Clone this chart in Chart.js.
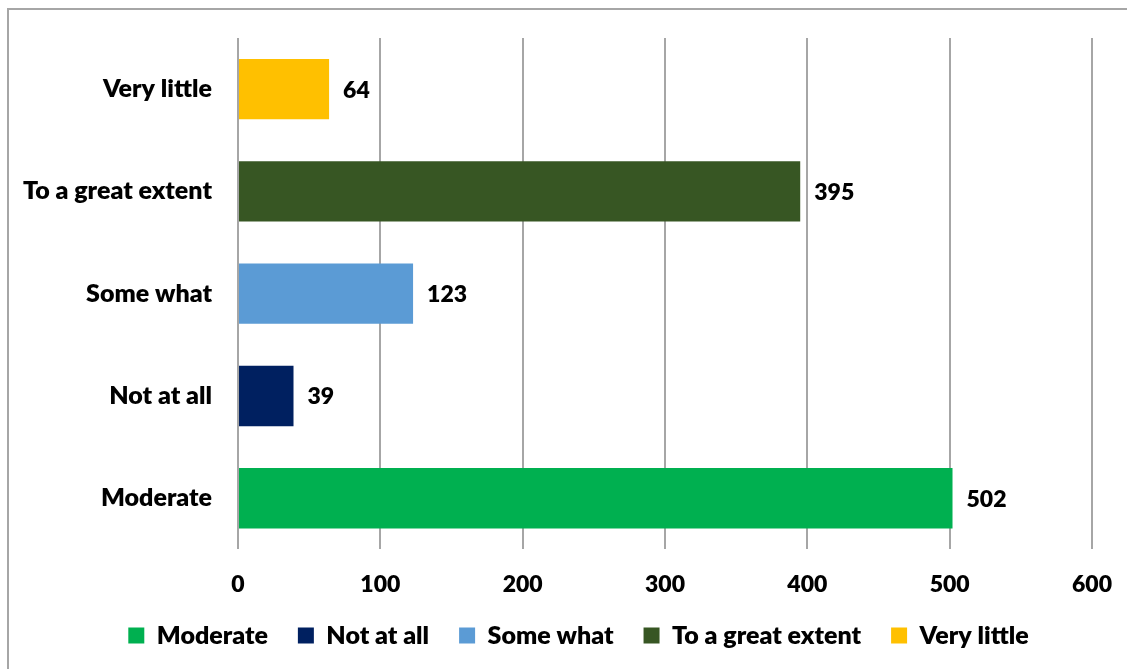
<!DOCTYPE html>
<html>
<head>
<meta charset="utf-8">
<script src="https://cdn.jsdelivr.net/npm/chart.js@4.4.1/dist/chart.umd.min.js"></script>
<style>
  html, body { margin: 0; padding: 0; background: #fff; overflow: hidden; }
  #frame {
    position: absolute; left: 7px; top: 8px; width: 1200px; height: 700px;
    border-left: 2px solid #a6a6a6; border-top: 2px solid #a6a6a6;
  }
  #wrap { position: absolute; left: 0; top: 0; width: 1127px; height: 669px; }
</style>
</head>
<body>
<div id="frame"></div>
<div id="wrap"><canvas id="chart"></canvas></div>
<script>
// values
const categories = ["Moderate", "Not at all", "Some what", "To a great extent", "Very little"];
const counts = [502, 39, 123, 395, 64];
const barColors = ["#00B050", "#002060", "#5B9BD5", "#375623", "#FFC000"];
const xTicks = [0, 100, 200, 300, 400, 500, 600];

const FONT = "Lato, 'Liberation Sans', sans-serif";
const WEIGHT = 800;

// draw the number at the end of each bar
const valueLabels = {
    id: "valueLabels",
    afterDatasetsDraw(chart) {
        const ctx = chart.ctx;
        const meta = chart.getDatasetMeta(0);
        ctx.save();
        ctx.font = WEIGHT + " 23px " + FONT;
        ctx.fillStyle = "#000";
        ctx.textAlign = "left";
        ctx.textBaseline = "middle";
        meta.data.forEach((bar, i) => {
            ctx.fillText(String(counts[i]), bar.x + 14, bar.y + 1);
        });
        ctx.restore();
    }
};

// the original legend sits a bit right of centre
const legendShift = {
    id: "legendShift",
    afterLayout(chart) {
        if (chart.legend) {
            chart.legend.left += 15;
            chart.legend.right += 15;
        }
    }
};

new Chart(document.getElementById("chart"), {
    type: "bar",
    data: {
        labels: categories,
        datasets: [{
            data: counts,
            backgroundColor: barColors,
            borderWidth: 0,
            categoryPercentage: 1,
            barPercentage: 0.59
        }]
    },
    options: {
        indexAxis: "y",
        responsive: true,
        maintainAspectRatio: false,
        animation: false,
        layout: { padding: { top: 38, right: 0, left: 0, bottom: 11 } },
        scales: {
            x: {
                min: 0,
                max: 600,
                afterBuildTicks(scale) {
                    scale.ticks = xTicks.map(v => ({ value: v }));
                },
                afterFit(scale) {
                    scale.height -= 26;
                    scale.paddingRight = 35;
                    scale.paddingLeft = 0;
                },
                grid: { color: "#a6a6a6", lineWidth: 2, drawTicks: false },
                border: { display: false },
                ticks: {
                    color: "#000",
                    padding: 21,
                    font: { family: FONT, size: 23, weight: WEIGHT }
                }
            },
            y: {
                reverse: true,
                afterFit(scale) {
                    scale.width = 238;
                    scale.paddingTop = 38;
                    scale.paddingBottom = 0;
                },
                grid: { display: false, drawTicks: false },
                border: { display: false },
                ticks: {
                    color: "#000",
                    padding: 26,
                    font: { family: FONT, size: 25, weight: WEIGHT }
                }
            }
        },
        plugins: {
            tooltip: { enabled: false },
            legend: {
                position: "bottom",
                labels: {
                    color: "#000",
                    boxWidth: 16,
                    boxHeight: 16,
                    padding: 30,
                    font: { family: FONT, size: 25, weight: WEIGHT },
                    generateLabels() {
                        return categories.map((c, i) => ({
                            text: c,
                            fillStyle: barColors[i],
                            strokeStyle: barColors[i],
                            lineWidth: 0,
                            index: i
                        }));
                    }
                }
            }
        }
    },
    plugins: [valueLabels, legendShift]
});
</script>
</body>
</html>
